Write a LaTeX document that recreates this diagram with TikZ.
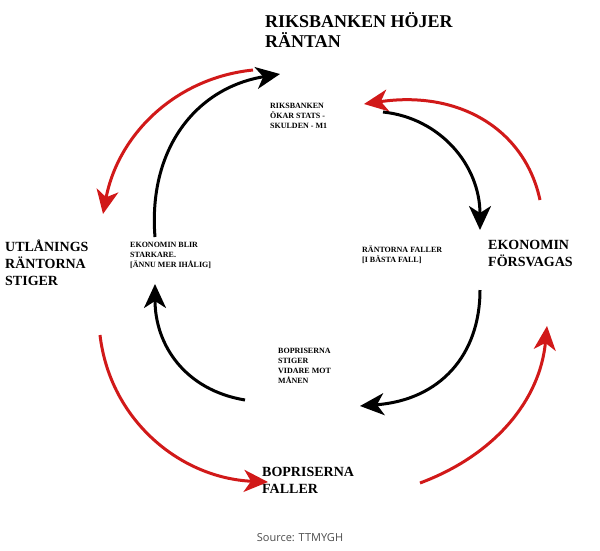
\documentclass[tikz,border=0pt]{standalone}
\usepackage{fontspec}
\setmainfont{Liberation Serif}
\newfontfamily\srcfont{Open Sans}
\usetikzlibrary{arrows.meta}
\begin{document}
\begin{tikzpicture}[x=1pt,y=-1pt,
 big/.style={anchor=north west,align=left,font=\bfseries\fontsize{14}{17}\selectfont,inner sep=0},
 small/.style={anchor=north west,align=left,font=\bfseries\fontsize{8}{10}\selectfont,inner sep=0},
 cyc/.style={line width=3pt,-{Stealth[length=24pt,width=22pt,inset=7pt]}},
 blk/.style={cyc,black}, rd/.style={cyc,red!80!black!90}]
\useasboundingbox (0,0) rectangle (600,550);
\node[big,font=\bfseries\fontsize{18}{20}\selectfont] (t) at (265,12) {RIKSBANKEN HÖJER\\RÄNTAN};
\node[big] (l) at (5,240) {UTLÅNINGS\\RÄNTORNA\\STIGER};
\node[big] (r) at (488,240) {EKONOMIN\\FÖRSVAGAS};
\node[big] (b) at (262,467) {BOPRISERNA\\FALLER};
\node[small] (s1) at (270,103) {RIKSBANKEN\\ÖKAR STATS -\\SKULDEN - M1};
\node[small] (s2) at (130,242) {EKONOMIN BLIR\\STARKARE.\\{}[ÄNNU MER IHÅLIG]};
\node[small] (s3) at (362,246) {RÄNTORNA FALLER\\{}[I BÄSTA FALL]};
\node[small] (s4) at (278,348) {BOPRISERNA\\STIGER\\VIDARE MOT\\MÅNEN};
\node[font=\srcfont\fontsize{11}{12}\selectfont,text=black!70] (src) at (300,538) {Source: TTMYGH};
\coordinate (a1) at (155,237); \coordinate (a2) at (280,74);
\coordinate (b1) at (383,112); \coordinate (b2) at (480,230);
\coordinate (c1) at (480,290); \coordinate (c2) at (360,406);
\coordinate (d1) at (245,400); \coordinate (d2) at (155,284);
\draw[blk] (a1) .. controls (148,150) and (195,88) .. (a2);
\draw[blk] (b1) .. controls (440,118) and (480,165) .. (b2);
\draw[blk] (c1) .. controls (480,355) and (440,400) .. (c2);
\draw[blk] (d1) .. controls (185,390) and (155,345) .. (d2);
\coordinate (e1) at (253,70); \coordinate (e2) at (103,214);
\coordinate (f1) at (100,335); \coordinate (f2) at (268,482);
\coordinate (g1) at (420,483); \coordinate (g2) at (547,326);
\coordinate (h1) at (540,200); \coordinate (h2) at (364,104);
\draw[rd] (e1) .. controls (175,78) and (118,135) .. (e2);
\draw[rd] (f1) .. controls (110,420) and (180,478) .. (f2);
\draw[rd] (g1) .. controls (495,455) and (540,400) .. (g2);
\draw[rd] (h1) .. controls (525,130) and (460,90) .. (h2);
\end{tikzpicture}
\end{document}
